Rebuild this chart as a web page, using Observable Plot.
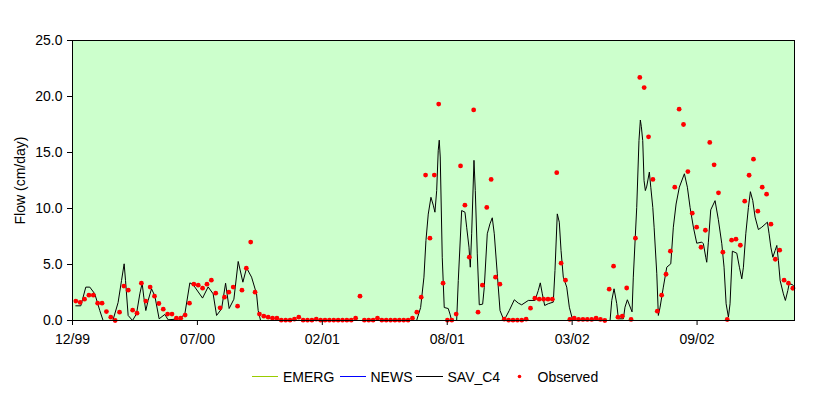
<!DOCTYPE html>
<html>
<head>
<meta charset="utf-8">
<script src="https://cdn.jsdelivr.net/npm/d3@7"></script>
<script src="https://cdn.jsdelivr.net/npm/@observablehq/plot@0.6"></script>
<style>
  body { margin: 0; background: #fff; font-family: Arial, "Liberation Sans", sans-serif; }
  #legend text { font-family: Arial, "Liberation Sans", sans-serif; font-size: 14px; fill: #000; }
</style>
</head>
<body>
<div id="chart"></div>
<svg id="legend" width="830" height="37"></svg>
<script>
// X axis: days from the axis origin (12/99), ticks every 200 days
const xTickDays = [0, 200, 400, 600, 800, 1000];
const xTickLabels = ["12/99", "07/00", "02/01", "08/01", "03/02", "09/02"];
const yTicks = [0, 5, 10, 15, 20, 25];
const xMaxDay = 1156;

// Observed weekly values (cm/day), first observation ~5 days after axis origin
const obsStartDay = 5.3;
const obsStepDays = 7.0;
const observed = [
  1.73, 1.61, 1.90, 2.26, 2.26, 1.55, 1.55, 0.80, 0.30, 0.00,
  0.74, 3.07, 2.71, 0.92, 0.65, 3.33, 1.73, 2.98, 2.17, 1.52,
  1.01, 0.57, 0.57, 0.21, 0.21, 0.48, 1.55, 3.24, 3.15, 2.89,
  3.24, 3.60, 2.44, 1.13, 2.08, 2.53, 2.98, 1.28, 2.71, 4.67,
  7.00, 2.53, 0.57, 0.39, 0.30, 0.21, 0.21, 0.03, 0.03, 0.03,
  0.12, 0.30, 0.03, 0.03, 0.03, 0.12, 0.03, 0.03, 0.03, 0.03,
  0.03, 0.03, 0.03, 0.03, 0.21, 2.17, 0.03, 0.03, 0.03, 0.21,
  0.03, 0.03, 0.03, 0.03, 0.03, 0.03, 0.03, 0.21, 0.74, 2.08,
  12.98, 7.35, 12.98, 19.32, 3.33, 0.03, 0.03, 0.57, 13.80, 10.30,
  5.65, 18.80, 0.74, 3.15, 10.10, 12.60, 3.87, 3.24, 0.12, 0.03,
  0.03, 0.03, 0.03, 0.12, 1.10, 1.99, 1.90, 1.90, 1.90, 1.90,
  13.20, 5.12, 3.60, 0.10, 0.20, 0.10, 0.10, 0.10, 0.10, 0.20,
  0.10, 0.00, 2.80, 4.85, 0.30, 0.38, 2.90, 0.10, 7.35, 21.70,
  20.80, 16.40, 12.60, 0.83, 2.26, 4.13, 6.19, 11.90, 18.87, 17.50,
  13.30, 9.58, 8.33, 6.54, 8.06, 15.90, 13.90, 11.40, 6.10, 0.09,
  7.17, 7.26, 6.72, 10.65, 12.97, 14.40, 9.76, 11.90, 11.28, 8.60,
  5.47, 6.28, 3.60, 3.33, 2.88
];

// SAV_C4 simulated series: vertices (day, value)
const savDay = [
  5.3, 13.3, 21.3, 27.7, 35.7, 43.7, 49.0, 64.6, 73.0, 78.5,
  82.7, 84.9, 89.1, 96.1, 102.5, 107.8, 111.5, 114.2, 117.4, 121.1,
  126.5, 131.8, 138.7, 147.8, 153.1, 171.9, 179.9, 187.9, 193.2, 208.2,
  217.2, 225.2, 230.7, 238.7, 245.1, 250.8, 258.4, 265.3, 272.8, 278.7,
  286.7, 294.7, 297.3, 301.1, 551.0, 557.4, 562.7, 565.9, 569.6, 573.9,
  577.6, 580.3, 583.1, 585.6, 587.2, 588.8, 592.0, 595.2, 601.6, 604.4,
  607.1, 615.1, 617.7, 623.1, 628.4, 631.1, 634.8, 636.9, 639.1, 642.8,
  644.9, 648.1, 651.3, 656.7, 659.3, 664.1, 668.4, 672.1, 675.3, 680.1,
  684.5, 690.9, 699.3, 707.4, 713.8, 719.2, 729.8, 740.5, 745.8, 749.0,
  752.2, 756.0, 761.8, 769.8, 772.5, 776.2, 779.4, 782.2, 785.8, 791.3,
  795.5, 800.3, 801.9, 860.7, 863.4, 867.1, 871.4, 874.0, 882.0, 884.6,
  888.4, 895.9, 897.9, 903.4, 907.0, 909.2, 910.8, 913.0, 915.1, 917.2,
  919.5, 923.6, 925.9, 929.1, 931.2, 935.5, 938.0, 940.8, 946.0, 951.5,
  957.9, 962.0, 966.4, 971.6, 979.7, 984.5, 988.8, 994.1, 999.5, 1007.5,
  1010.1, 1013.9, 1015.5, 1018.1, 1021.9, 1028.8, 1034.1, 1039.6, 1043.2, 1046.5,
  1050.2, 1052.8, 1056.5, 1063.6, 1067.8, 1071.6, 1074.2, 1078.0, 1082.2, 1085.4,
  1089.2, 1092.9, 1098.2, 1103.6, 1112.6, 1115.3, 1118.1, 1121.3, 1125.0, 1127.7,
  1130.2, 1133.0, 1138.2, 1141.4, 1145.3, 1147.4, 1152.7, 1155.9
];
const savVal = [
  1.31, 1.31, 2.98, 2.98, 2.38, 0.89, 0.00, 0.00, 1.60, 3.57,
  5.06, 3.57, 0.45, 0.00, 0.60, 2.38, 3.33, 2.08, 0.89, 1.79,
  2.83, 2.20, 0.15, 0.54, 0.06, 0.15, 0.60, 3.36, 3.20, 2.00,
  3.00, 2.38, 0.45, 1.04, 3.33, 1.07, 1.90, 5.27, 3.42, 4.70,
  3.87, 2.38, 0.89, 0.00, 0.00, 1.16, 3.87, 7.14, 9.50, 11.00,
  10.30, 9.67, 11.60, 15.20, 16.10, 14.60, 5.65, 1.16, 1.07, 0.57,
  0.00, 0.00, 3.57, 9.82, 9.67, 8.33, 6.55, 4.76, 7.74, 14.30,
  11.60, 5.95, 1.40, 1.46, 2.95, 7.74, 8.63, 9.17, 7.74, 4.17,
  0.89, 0.00, 0.89, 1.85, 1.55, 1.40, 1.79, 1.79, 2.68, 3.36,
  2.38, 1.34, 1.50, 1.64, 4.46, 9.52, 8.78, 6.25, 3.87, 2.98,
  1.19, 0.15, 0.00, 0.00, 1.79, 2.83, 1.50, 0.15, 0.15, 1.19,
  1.85, 0.77, 3.87, 10.10, 16.07, 17.90, 17.30, 16.07, 12.50, 11.60,
  12.00, 13.25, 11.90, 10.10, 8.33, 4.17, 0.45, 1.19, 2.98, 4.76,
  5.06, 8.33, 10.40, 11.90, 13.10, 11.90, 10.10, 8.33, 6.90, 7.00,
  6.85, 5.65, 5.20, 6.99, 9.88, 10.70, 9.00, 6.85, 4.76, 1.49,
  0.30, 1.49, 6.19, 6.01, 4.76, 3.72, 4.76, 7.74, 10.10, 11.50,
  10.70, 9.23, 8.12, 8.33, 8.78, 7.74, 6.55, 5.65, 6.25, 6.70,
  5.36, 3.57, 2.38, 1.79, 2.68, 3.27, 3.21, 2.98
];

const seriesNames = ["EMERG", "NEWS", "SAV_C4", "Observed"];
const seriesColors = ["#99CC00", "#0000FF", "#000000", "#FF0000"];

const obsData = observed.map((v, i) => ({day: obsStartDay + obsStepDays * i, v}));
const savData = savDay.map((d, i) => ({day: d, v: savVal[i]}));

const chart = Plot.plot({
  width: 830,
  height: 360,
  marginLeft: 72,
  marginRight: 36,
  marginTop: 40,
  marginBottom: 40,
  style: {fontFamily: "Arial, 'Liberation Sans', sans-serif", fontSize: "14px", color: "#000", background: "#fff", overflow: "visible"},
  x: {domain: [0, xMaxDay]},
  y: {domain: [0, 25]},
  marks: [
    Plot.frame({fill: "#CCFFCC", stroke: null}),
    Plot.line(savData, {x: "day", y: "v", stroke: seriesColors[2], strokeWidth: 1}),
    Plot.dot(obsData, {x: "day", y: "v", r: 2.4, fill: seriesColors[3], stroke: null}),
    Plot.frame({stroke: "#000", strokeWidth: 1}),
    Plot.axisY(yTicks, {tickSize: 5, tickPadding: 5, tickFormat: d => d.toFixed(1), label: null, fontSize: 14}),
    Plot.axisX(xTickDays, {tickSize: 5, tickPadding: 9, tickFormat: d => xTickLabels[xTickDays.indexOf(d)], label: null, fontSize: 14}),
    Plot.text(["Flow (cm/day)"], {frameAnchor: "left", textAnchor: "middle", rotate: -90, dx: -52, fontSize: 14})
  ]
});
document.getElementById("chart").appendChild(chart);

// Legend below the chart
const lg = d3.select("#legend");
const items = [
  {name: seriesNames[0], color: seriesColors[0], type: "line", x0: 252, x1: 278, tx: 283},
  {name: seriesNames[1], color: seriesColors[1], type: "line", x0: 340, x1: 366, tx: 370.5},
  {name: seriesNames[2], color: seriesColors[2], type: "line", x0: 416, x1: 443, tx: 447.5},
  {name: seriesNames[3], color: seriesColors[3], type: "dot", x0: 519.5, x1: 519.5, tx: 537.5}
];
items.forEach(it => {
  if (it.type === "line") {
    lg.append("line").attr("x1", it.x0).attr("x2", it.x1).attr("y1", 16.5).attr("y2", 16.5)
      .attr("stroke", it.color).attr("stroke-width", 1);
  } else {
    lg.append("circle").attr("cx", it.x0).attr("cy", 16.5).attr("r", 1.8).attr("fill", it.color);
  }
  lg.append("text").attr("x", it.tx).attr("y", 21.5).text(it.name);
});
</script>
</body>
</html>
